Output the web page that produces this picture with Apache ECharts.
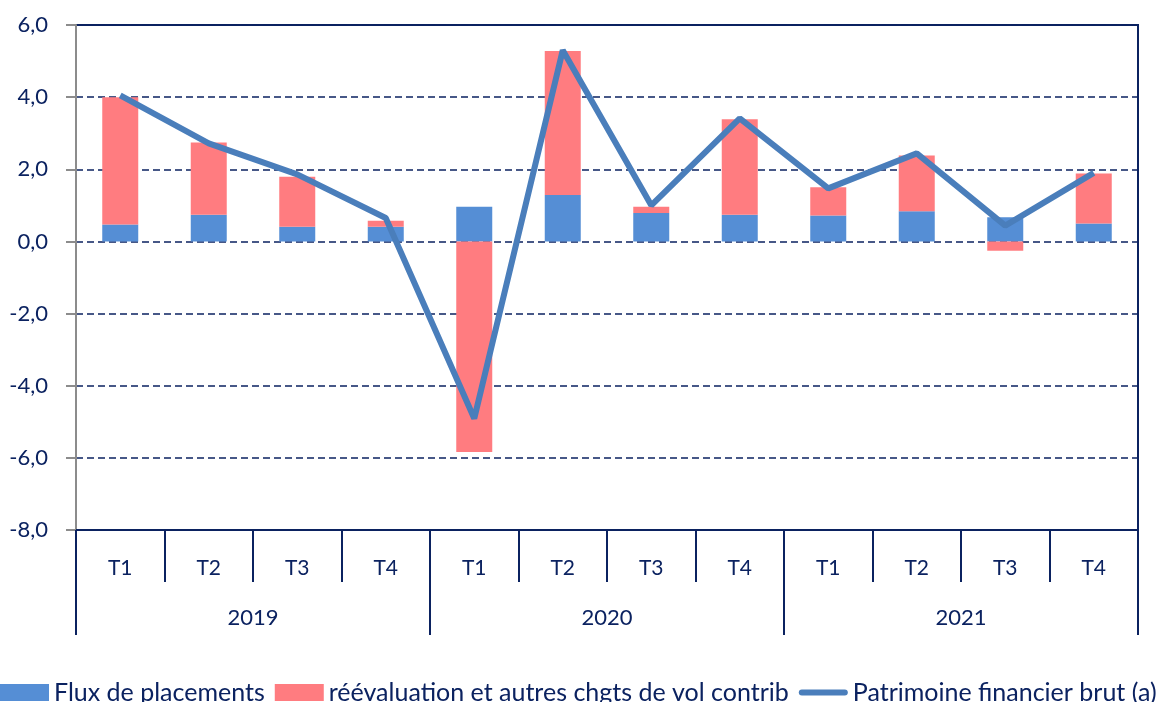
<!DOCTYPE html>
<html>
<head>
<meta charset="utf-8">
<script src="https://cdn.jsdelivr.net/npm/echarts@6/dist/echarts.min.js"></script>
<style>
  html, body { margin: 0; padding: 0; background: #fff; }
  #main { width: 1168px; height: 702px; }
</style>
</head>
<body>
<div id="main"></div>
<script>
// trimestres et années
var quarters = ['T1', 'T2', 'T3', 'T4', 'T1', 'T2', 'T3', 'T4', 'T1', 'T2', 'T3', 'T4'];
var years = ['2019', '2020', '2021'];

// valeurs
var flux = [0.47, 0.74, 0.41, 0.41, 0.96, 1.29, 0.79, 0.74, 0.72, 0.84, 0.67, 0.50];
var reeval = [3.53, 2.00, 1.38, 0.16, -5.84, 3.99, 0.17, 2.65, 0.78, 1.54, -0.26, 1.38];
var patrimoine = [4.05, 2.72, 1.86, 0.65, -4.91, 5.30, 1.00, 3.41, 1.47, 2.44, 0.44, 1.90];

var navy = '#0b2260';
var font = 'Lato';

var myChart = echarts.init(document.getElementById('main'));
myChart.setOption({
  animation: false,
  textStyle: { fontFamily: font },
  grid: {
    left: 76, right: 30, top: 25, bottom: 172,
    show: true, borderColor: navy, borderWidth: 2
  },
  legend: {
    left: 0, top: 680, padding: 0,
    itemWidth: 49, itemHeight: 17, itemGap: 10,
    textStyle: { fontSize: 25, color: navy, fontFamily: font },
    data: [
      { name: 'Flux de placements', icon: 'rect' },
      { name: 'réévaluation et autres chgts de vol contrib', icon: 'rect' },
      { name: 'Patrimoine financier brut (a)', icon: 'path://M3,0 L45,0 A3,3 0 0 1 45,6 L3,6 A3,3 0 0 1 3,0 Z' }
    ]
  },
  xAxis: [
    {
      type: 'category',
      data: quarters,
      position: 'bottom',
      axisLine: { onZero: false, lineStyle: { color: navy, width: 2 } },
      axisTick: { show: true, interval: 0, length: 52, lineStyle: { color: navy, width: 2 } },
      axisLabel: { interval: 0, margin: 28, fontSize: 21, color: navy }
    },
    {
      type: 'category',
      data: years,
      position: 'bottom',
      axisLine: { show: false, onZero: false },
      axisTick: { show: true, interval: 0, length: 105, lineStyle: { color: navy, width: 2 } },
      axisLabel: { interval: 0, margin: 77, fontSize: 22, color: navy }
    }
  ],
  yAxis: {
    type: 'value',
    min: -8, max: 6, interval: 2,
    axisLine: { show: true, lineStyle: { color: '#8c8c8c', width: 2 } },
    axisTick: { show: true, length: 10, lineStyle: { color: '#8c8c8c', width: 2 } },
    axisLabel: {
      margin: 28, fontSize: 22, color: navy,
      formatter: function (v) { return v.toFixed(1).replace('.', ','); }
    },
    splitLine: { show: true, lineStyle: { color: navy, width: 1.5, type: [7, 4] } }
  },
  series: [
    {
      name: 'Flux de placements',
      type: 'bar', stack: 'total', barWidth: 36,
      itemStyle: { color: '#558ed5' },
      data: flux
    },
    {
      name: 'réévaluation et autres chgts de vol contrib',
      type: 'bar', stack: 'total', barWidth: 36,
      itemStyle: { color: '#ff7c80' },
      data: reeval
    },
    {
      name: 'Patrimoine financier brut (a)',
      type: 'line', symbol: 'none', z: 5,
      lineStyle: { color: '#4a7ebb', width: 6 },
      itemStyle: { color: '#4a7ebb' },
      data: patrimoine
    }
  ]
});
</script>
</body>
</html>
